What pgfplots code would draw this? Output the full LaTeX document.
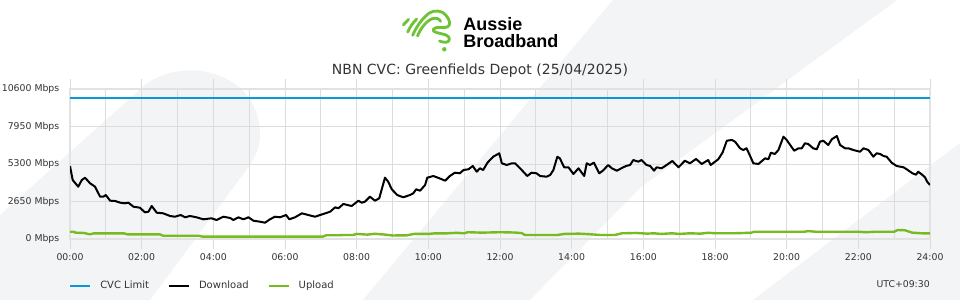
\documentclass[border=0pt]{standalone}
\usepackage{fontspec}
\setmainfont{DejaVu Sans}
\newfontfamily\logofont{Liberation Sans}
\usepackage{pgfplots}
\pgfplotsset{compat=1.18}
\definecolor{cvc}{HTML}{0A98D9}
\definecolor{upl}{HTML}{76BC21}
\definecolor{logog}{HTML}{6CC334}
\definecolor{bgs}{HTML}{F3F4F6}
\definecolor{gridc}{HTML}{DCDCDC}
\definecolor{axc}{HTML}{E2E2E2}
\definecolor{txt}{HTML}{333333}

\pgfplotstableread{
t v
0 5180
0.075 4190
0.23 3717
0.33 4190
0.42 4353
0.56 3958
0.70 3717
0.84 3010
0.93 3010
1.0 3131
1.12 2728
1.26 2707
1.40 2587
1.53 2544
1.63 2587
1.77 2304
1.95 2233
2.09 1908
2.19 1950
2.28 2353
2.42 1880
2.60 1837
2.79 1647
2.93 1597
3.09 1717
3.21 1555
3.35 1647
3.53 1555
3.72 1413
3.95 1484
4.09 1364
4.28 1597
4.47 1505
4.56 1364
4.70 1555
4.84 1413
4.98 1555
5.12 1314
5.30 1244
5.44 1173
5.58 1413
5.72 1597
5.86 1555
6.03 1717
6.12 1413
6.28 1555
6.47 1837
6.65 1717
6.84 1597
6.98 1717
7.26 1950
7.40 2261
7.49 2191
7.63 2495
7.86 2353
8.05 2728
8.14 2587
8.23 2657
8.37 3010
8.51 2728
8.63 2897
8.79 4353
8.88 4071
8.98 3533
9.13 3131
9.30 2968
9.49 3131
9.58 3251
9.66 3533
9.77 3435
9.91 3837
9.97 4353
10.14 4473
10.31 4311
10.47 4141
10.60 4473
10.74 4707
10.88 4664
10.98 4897
11.12 4947
11.24 5180
11.35 4777
11.44 5018
11.53 4897
11.65 5413
11.81 5837
11.98 6078
12.05 5371
12.19 5251
12.33 5371
12.42 5371
12.56 5018
12.65 4777
12.76 4473
12.88 4707
13.02 4664
13.12 4473
13.30 4424
13.40 4544
13.49 4897
13.60 5837
13.67 5724
13.79 5088
13.91 5088
14.05 4615
14.19 5018
14.35 4473
14.42 5371
14.51 5251
14.62 5413
14.77 4664
14.87 4848
15.02 5251
15.12 5018
15.26 4848
15.44 5088
15.52 5180
15.63 5251
15.72 5604
15.86 5484
15.95 5604
16.09 5251
16.19 5180
16.30 4848
16.37 5088
16.51 5018
16.65 5251
16.81 5534
16.98 5088
17.16 5555
17.30 5371
17.47 5675
17.63 5322
17.81 5604
17.88 5251
18.09 5654
18.21 6120
18.33 6968
18.47 7018
18.56 6897
18.70 6431
18.79 6311
18.88 6431
18.98 5887
19.07 5371
19.21 5322
19.40 5724
19.49 5654
19.56 6120
19.67 6028
19.77 6311
19.91 7251
20.00 7018
20.21 6261
20.33 6431
20.42 6431
20.51 6784
20.60 6735
20.74 6431
20.84 6360
20.93 6897
21.02 6968
21.16 6664
21.26 7067
21.40 7300
21.49 6664
21.63 6431
21.72 6431
21.86 6311
22.05 6191
22.14 6431
22.28 6311
22.42 5837
22.51 6078
22.61 6028
22.70 5887
22.79 5837
22.93 5413
23.07 5180
23.26 5088
23.35 4947
23.51 4664
23.61 4566
23.67 4777
23.79 4544
23.86 4381
23.92 4071
24.00 3837
}\download

\pgfplotstableread{
t v
0 537
0.1 537
0.15 470
0.4 445
0.5 380
0.56 353
0.67 424
1.0 424
1.5 424
1.6 353
2.5 353
2.6 254
3.6 254
3.7 184
7.05 184
7.15 283
7.5 283
7.6 304
7.9 304
8.0 380
8.3 330
8.5 390
8.8 330
9.0 270
9.4 280
9.6 380
10.0 380
10.2 424
10.5 420
10.8 460
11.0 424
11.1 500
11.5 470
12.0 500
12.4 480
12.6 440
12.7 304
13.6 304
13.8 380
14.2 400
14.5 360
14.8 304
15.2 304
15.4 424
15.8 450
16.1 400
16.3 424
16.5 380
16.8 424
17.0 380
17.3 424
17.6 400
17.8 460
18.0 430
18.5 424
19.0 460
19.1 537
20.5 537
20.6 580
20.8 537
22.0 537
22.2 500
22.5 537
23.0 537
23.1 657
23.3 640
23.5 470
23.8 420
24 424
}\upload

\begin{document}
\begin{tikzpicture}
\useasboundingbox (0,0) rectangle (720pt,225pt);
\begin{scope}[x=0.75pt,y=-0.75pt,yshift=225pt]
  \fill[white] (0,0) rectangle (960,300);
  \begin{scope}
    \clip (0,0) rectangle (960,300);
    \fill[bgs] (0,300) -- (0,215) -- (145,85) .. controls (180,58) and (245,68) .. (258,118)
       .. controls (263,140) and (258,152) .. (250,165) -- (150,300) -- cycle;
    \fill[bgs] (363,300) -- (613,0) -- (897,0) -- (640,188) -- (530,300) -- cycle;
    \fill[bgs] (753,300) -- (960,143) -- (960,300) -- cycle;
  \end{scope}
  % logo
  \begin{scope}[logog, line width=2.1pt, line cap=round, line join=round]
    \draw (403.3,24.8) -- (408.7,19.3);
    \draw (407.7,32) .. controls (409.5,28) and (412.5,23) .. (416.7,19);
    \draw (412.7,35.3) .. controls (415,30) and (420,20) .. (429.3,13)
       .. controls (434,10) and (442,10) .. (446,15.3)
       .. controls (450,20) and (451,25) .. (447.5,27)
       .. controls (444,28.5) and (436,26) .. (433.5,29)
       .. controls (431,32.5) and (440,33) .. (446,35)
       .. controls (451,37) and (450,42) .. (446,42.3)
       .. controls (443,42.5) and (441,41.5) .. (439.5,41);
    \draw (417.5,36) .. controls (420,30) and (425,22) .. (431.5,19)
       .. controls (436,17) and (440,19) .. (440.5,21.5);
    \fill (444.3,49.3) circle (2.2);
  \end{scope}
  \node[anchor=base west, inner sep=0pt, font=\logofont\bfseries\fontsize{13.5pt}{14pt}\selectfont] at (463,31) {Aussie};
  \node[anchor=base west, inner sep=0pt, font=\logofont\bfseries\fontsize{13.5pt}{14pt}\selectfont] at (463,47.7) {Broadband};
  \node[text=txt, font=\fontsize{10.5pt}{12pt}\selectfont] at (480,70.5) {NBN CVC: Greenfields Depot (25/04/2025)};
  \node[anchor=east, inner sep=0pt, text=txt, font=\fontsize{7pt}{8pt}\selectfont] at (930,284) {UTC+09:30};
\end{scope}

\begin{axis}[
  at={(52.5pt,45.525pt)}, anchor=south west,
  scale only axis, width=645pt, height=112.5pt,
  xmin=0, xmax=24, ymin=0, ymax=10600,
  scaled y ticks=false, scaled x ticks=false,
  xtick={0,2,...,24},
  xticklabels={00:00,02:00,04:00,06:00,08:00,10:00,12:00,14:00,16:00,18:00,20:00,22:00,24:00},
  minor xtick={1,3,...,23},
  ytick={0,2650,5300,7950,10600},
  yticklabels={0 Mbps,2650 Mbps,5300 Mbps,7950 Mbps,10600 Mbps},
  grid=both,
  major grid style={gridc, line width=0.75pt},
  minor grid style={gridc, line width=0.75pt},
  axis line style={axc, line width=1.5pt},
  tick align=outside,
  major tick length=7.5pt, minor tick length=0pt,
  xtick style={gridc, line width=0.75pt},
  ytick style={draw=none},
  ticklabel style={text=txt, font=\fontsize{7pt}{8pt}\selectfont},
  yticklabel style={xshift=3pt},
  legend style={at={(0,-0.311)}, anchor=west, xshift=-15pt, draw=none, fill=none, inner sep=0pt,
     text=txt, font=\fontsize{7.5pt}{9pt}\selectfont, column sep=0pt,
     nodes={inner sep=0pt}},
  legend columns=3,
  legend cell align=left,
  legend image code/.code={\path[draw=none, fill=none] (-15pt,0pt) -- (22.5pt,0pt); \draw[#1] (0pt,0pt) -- (15pt,0pt);},
]
\addplot[cvc, line width=1.8pt] coordinates {(0,10000) (24,10000)};
\addlegendentry{CVC Limit}
\addplot[black, line width=1.5pt, line join=round] table[x=t,y=v] {\download};
\addlegendentry{Download}
\addplot[upl, line width=1.8pt, line join=round] table[x=t,y=v] {\upload};
\addlegendentry{Upload}
\end{axis}
\end{tikzpicture}
\end{document}
